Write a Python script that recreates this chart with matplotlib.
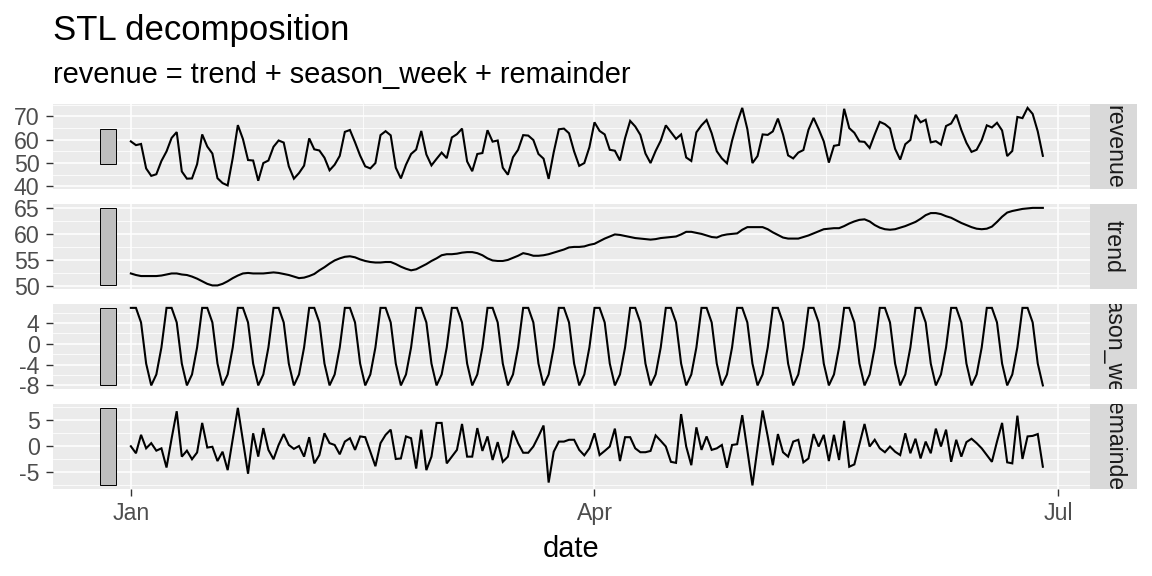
import matplotlib
matplotlib.use("Agg")
import matplotlib.pyplot as plt
import matplotlib.dates as mdates
from matplotlib.patches import Rectangle
from matplotlib.ticker import FixedLocator, MultipleLocator
import numpy as np
import pandas as pd

# daily series, 2024-01-01 .. 2024-06-28
dates = pd.date_range("2024-01-01", periods=180, freq="D")

revenue = [
    59.3, 57.7, 58.2, 47.7, 44.5, 45.2, 50.9, 55.0, 60.8, 63.3,
    46.4, 43.3, 43.4, 49.5, 62.3, 57.1, 54.1, 43.5, 41.4, 40.4,
    52.2, 66.3, 60.3, 51.3, 51.1, 42.4, 50.0, 51.1, 57.0, 59.7,
    58.8, 48.6, 43.3, 45.7, 48.9, 60.6, 55.9, 55.4, 52.3, 46.9,
    49.3, 53.1, 63.4, 64.2, 58.9, 53.2, 48.6, 47.7, 50.0, 62.0,
    63.7, 61.9, 48.0, 43.4, 49.3, 53.9, 55.8, 63.8, 53.7, 49.0,
    51.8, 54.5, 52.1, 61.0, 62.4, 64.8, 50.7, 46.5, 53.9, 54.3,
    64.1, 59.2, 59.7, 48.0, 45.0, 52.5, 55.7, 62.0, 61.8, 59.9,
    53.9, 51.9, 43.2, 54.7, 64.5, 64.8, 62.8, 55.0, 48.8, 50.0,
    56.8, 67.5, 63.8, 62.3, 55.7, 55.3, 51.1, 60.7, 68.1, 65.7,
    62.1, 54.1, 50.0, 55.2, 59.6, 66.2, 63.3, 60.4, 62.3, 52.4,
    50.9, 63.2, 66.2, 68.5, 62.8, 55.1, 52.0, 49.9, 59.6, 67.4,
    73.7, 64.6, 50.0, 53.0, 62.3, 62.1, 63.6, 69.1, 62.3, 53.3,
    52.0, 54.5, 55.6, 64.3, 69.4, 64.6, 59.3, 50.2, 57.4, 57.8,
    73.3, 65.0, 63.0, 59.3, 59.1, 56.5, 62.3, 67.7, 66.7, 64.9,
    56.1, 51.5, 58.1, 59.9, 70.7, 67.5, 68.6, 58.9, 59.4, 57.9,
    65.9, 67.0, 70.8, 64.2, 58.7, 54.8, 55.7, 59.8, 66.2, 65.3,
    67.3, 64.0, 53.0, 55.2, 69.8, 69.3, 73.7, 71.1, 63.6, 53.1,
]

trend = [
    52.4, 52.1, 51.9, 51.9, 51.9, 51.9, 52.0, 52.2, 52.4, 52.4,
    52.2, 52.1, 51.8, 51.4, 50.9, 50.4, 50.1, 50.1, 50.4, 50.9,
    51.5, 52.0, 52.4, 52.5, 52.4, 52.4, 52.4, 52.5, 52.6, 52.5,
    52.3, 52.1, 51.8, 51.5, 51.6, 51.9, 52.3, 53.0, 53.6, 54.3,
    54.9, 55.3, 55.6, 55.7, 55.5, 55.1, 54.8, 54.6, 54.5, 54.5,
    54.6, 54.6, 54.2, 53.7, 53.3, 53.0, 53.2, 53.7, 54.2, 54.8,
    55.3, 55.9, 56.1, 56.1, 56.2, 56.4, 56.5, 56.5, 56.3, 55.9,
    55.3, 54.9, 54.8, 54.8, 55.0, 55.4, 55.8, 56.3, 56.1, 55.8,
    55.8, 55.9, 56.1, 56.4, 56.7, 57.0, 57.4, 57.5, 57.5, 57.6,
    57.9, 58.1, 58.6, 59.1, 59.5, 59.9, 59.8, 59.6, 59.4, 59.2,
    59.1, 59.0, 58.9, 59.0, 59.2, 59.3, 59.4, 59.5, 59.9, 60.4,
    60.4, 60.2, 60.0, 59.7, 59.4, 59.3, 59.7, 59.9, 60.0, 60.1,
    60.8, 61.3, 61.3, 61.3, 61.3, 60.9, 60.3, 59.8, 59.3, 59.1,
    59.1, 59.1, 59.4, 59.7, 60.1, 60.5, 60.9, 61.0, 61.1, 61.1,
    61.5, 62.0, 62.4, 62.7, 62.8, 62.4, 61.7, 61.2, 60.9, 60.8,
    60.9, 61.2, 61.5, 61.9, 62.3, 62.9, 63.6, 64.0, 64.0, 63.8,
    63.4, 63.1, 62.6, 62.1, 61.7, 61.3, 61.0, 60.9, 61.0, 61.4,
    62.3, 63.3, 64.1, 64.4, 64.6, 64.8, 64.9, 65.0, 65.0, 65.0,
]

# weekly seasonal pattern, Mon .. Sun (repeats unchanged over the period)
season_pattern = [6.9, 6.9, 4.1, -3.8, -8.0, -5.9, -0.7]
season_week = np.tile(season_pattern, 26)[:180]

remainder = [
    0.0, -1.35, 2.2, -0.4, 0.6, -0.85, -0.4, -4.1, 1.5, 6.75,
    -2.0, -0.85, -2.5, -1.2, 4.5, -0.25, -0.1, -2.85, -1.05, -4.6,
    1.4, 7.4, 1.0, -5.3, 2.5, -2.0, 3.5, -0.7, -2.5, 0.25,
    2.35, 0.25, -0.5, 0.05, -2.0, 1.75, -3.3, -1.7, 2.5, 0.6,
    0.25, -1.55, 0.9, 1.55, -0.7, 1.9, 1.75, -1.05, -3.85, 0.6,
    2.2, 3.2, -2.45, -2.35, 1.9, 1.55, -4.3, 3.2, -4.6, -2.0,
    4.5, 4.5, -3.3, -2.0, -0.7, 4.3, -2.0, -2.0, 3.5, -0.9,
    1.9, -2.65, 0.8, -3.0, -2.0, 3.0, 0.6, -1.25, -1.25, -0.05,
    1.9, 4.0, -7.0, -1.05, 0.9, 0.9, 1.25, 1.25, -0.7, -1.75,
    -0.4, 2.5, -1.7, -0.9, -0.05, 3.4, -2.85, 1.75, 1.75, -0.4,
    -1.15, -1.15, -0.9, 2.1, 1.05, -0.05, -3.0, -3.2, 6.2, -0.05,
    -3.65, 3.65, -0.7, 1.9, -0.7, -0.4, 0.25, -4.15, 0.25, 0.4,
    6.0, -0.8, -7.55, -0.3, 6.9, 1.9, -3.65, 2.35, -1.15, -2.0,
    0.9, 1.25, -3.1, -2.35, 2.35, -0.05, 2.2, -2.85, 2.2, -2.65,
    4.9, -3.95, -3.5, 0.4, 4.3, -0.05, 1.25, -0.4, -1.15, -0.05,
    -1.05, -1.7, 2.5, -1.35, 1.45, -2.35, 0.9, -1.35, 3.4, -0.05,
    3.2, -3.0, 1.25, -2.0, 0.8, 1.45, 0.6, -0.4, -1.7, -3.0,
    0.9, 4.5, -3.1, -3.3, 5.9, -2.45, 1.9, 2.0, 2.35, -3.95,
]

panel_names = ["revenue", "trend", "season_week", "remainder"]
panel_ticks = [[40, 50, 60, 70], [50, 55, 60, 65], [-8, -4, 0, 4], [-5, 0, 5]]
panel_minor = [5, 2.5, 2, 2.5]

x_breaks = ["2024-01-01", "2024-04-01", "2024-07-01"]
x_labels = ["Jan", "Apr", "Jul"]
x_minor = ["2024-02-15 12:00", "2024-05-16 12:00"]

plt.rcParams['font.family'] = ['Liberation Sans', 'DejaVu Sans']
plt.rcParams['axes.unicode_minus'] = False

W, H = 1152, 576
fig = plt.figure(figsize=(W / 100, H / 100), dpi=100)


def fig_rect(x0, y0, x1, y1):
    return [x0 / W, 1 - y1 / H, (x1 - x0) / W, (y1 - y0) / H]


left, right, strip_w = 52.7, 1090, 47
panel_h = 85.3
tops = [104, 204, 304, 404]

series = [np.array(revenue), np.array(trend), season_week, np.array(remainder)]
xnum = mdates.date2num(dates)
span = xnum[-1] - xnum[0]

# scale bars: same length (smallest range) in each panel
bar_len = min(s.max() - s.min() for s in series)
bar_x0 = xnum[0] - 0.034 * span
bar_x1 = xnum[0] - 0.016 * span
xlo, xhi = bar_x0, xnum[-1]
xpad = 0.05 * (xhi - xlo)

for i, (name, vals) in enumerate(zip(panel_names, series)):
    top = tops[i]
    ax = fig.add_axes(fig_rect(left, top, right, top + panel_h))
    ax.set_facecolor('#EBEBEB')
    for sp in ax.spines.values():
        sp.set_visible(False)
    ax.set_axisbelow(True)

    ax.plot(xnum, vals, color='black', lw=1.5, solid_joinstyle='miter')

    mid = (vals.max() + vals.min()) / 2
    ax.add_patch(Rectangle((bar_x0, mid - bar_len / 2), bar_x1 - bar_x0, bar_len,
                           facecolor='#BFBFBF', edgecolor='black', lw=0.7))

    ylo = min(vals.min(), mid - bar_len / 2)
    yhi = max(vals.max(), mid + bar_len / 2)
    ypad = 0.05 * (yhi - ylo)
    ax.set_ylim(ylo - ypad, yhi + ypad)
    ax.set_xlim(xlo - xpad, xhi + xpad)

    ax.yaxis.set_major_locator(FixedLocator(panel_ticks[i]))
    ax.yaxis.set_minor_locator(MultipleLocator(panel_minor[i]))
    ax.xaxis.set_major_locator(FixedLocator(mdates.date2num(pd.to_datetime(x_breaks))))
    ax.xaxis.set_minor_locator(FixedLocator(mdates.date2num(pd.to_datetime(x_minor))))
    ax.grid(True, which='major', color='white', lw=1.1)
    ax.grid(True, which='minor', color='white', lw=0.55)

    ax.tick_params(axis='both', which='major', length=5.3, width=1.0, color='#333333',
                   labelsize=16.7, labelcolor='#4D4D4D', pad=4.2)
    ax.tick_params(axis='both', which='minor', length=0)
    if i == len(panel_names) - 1:
        ax.set_xticklabels(x_labels)
    else:
        ax.tick_params(axis='x', which='major', length=0, labelbottom=False)

    # facet strip on the right, label clipped to the strip like ggplot
    st = fig.add_axes(fig_rect(right, top, right + strip_w, top + panel_h))
    st.set_facecolor('#D9D9D9')
    st.set_xticks([])
    st.set_yticks([])
    for sp in st.spines.values():
        sp.set_visible(False)
    st.text(0.5, 0.5, name, rotation=-90, ha='center', va='center',
            transform=st.transAxes, fontsize=16.7, color='#1A1A1A', clip_on=True)

fig.text(left / W, 1 - 40 / H, "STL decomposition", fontsize=25, ha='left', va='baseline')
fig.text(left / W, 1 - 83 / H, "revenue = trend + season_week + remainder",
         fontsize=20.9, ha='left', va='baseline')
fig.text((left + right) / 2 / W, 1 - 557 / H, "date", fontsize=20.9, ha='center', va='baseline')

fig.savefig('out.png', dpi=100)
